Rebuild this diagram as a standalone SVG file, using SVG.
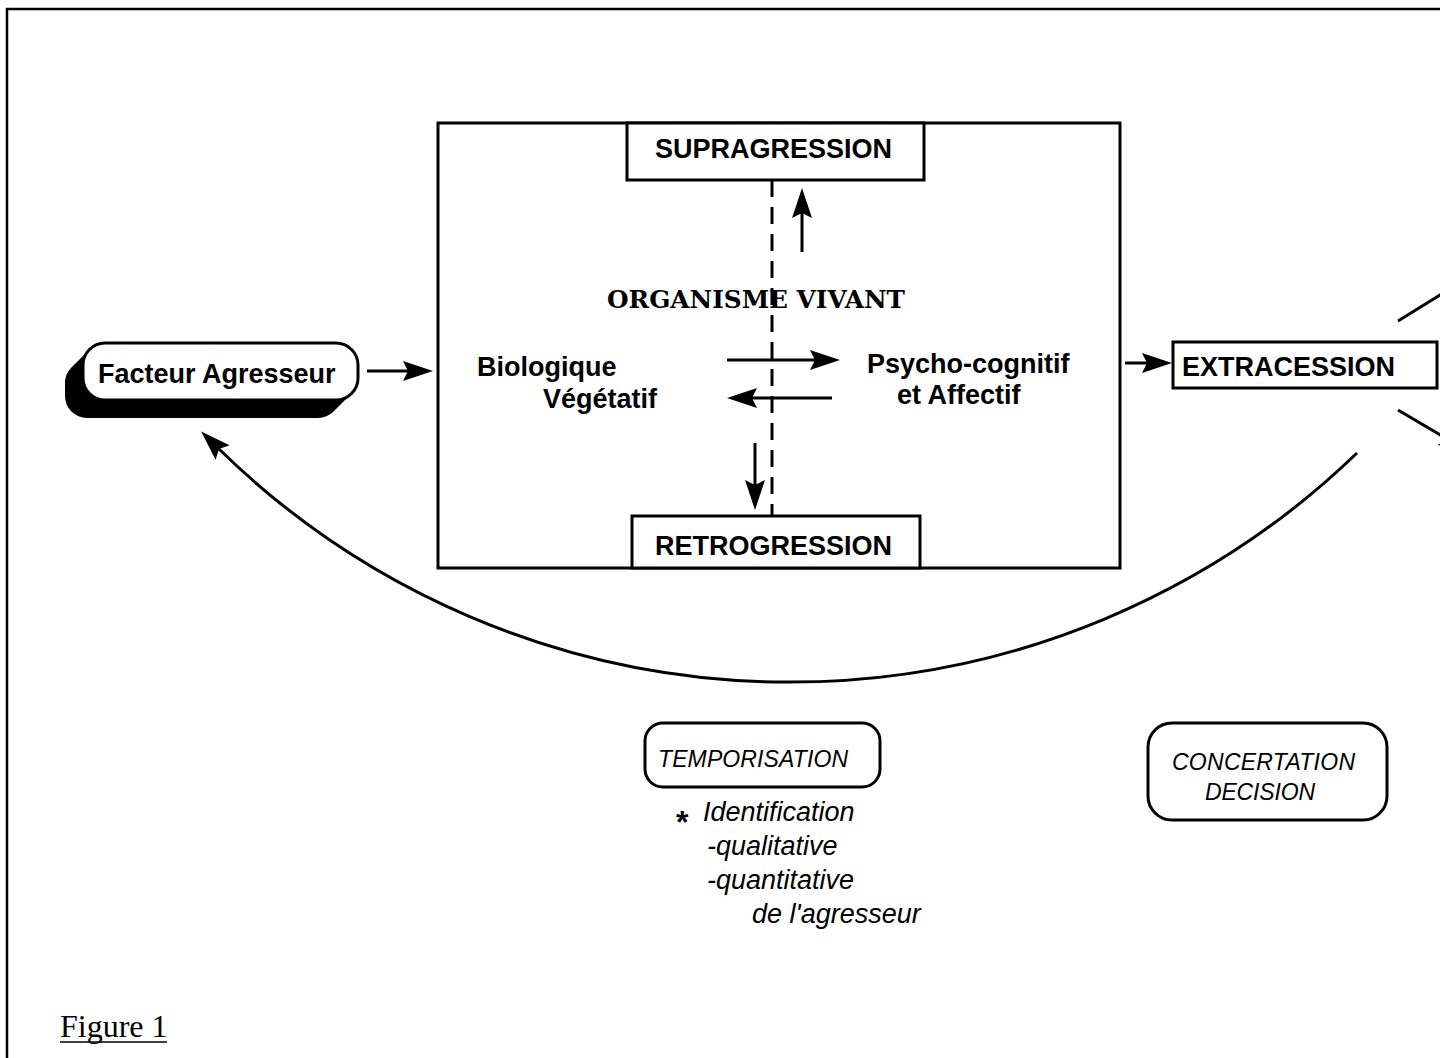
<svg xmlns="http://www.w3.org/2000/svg" width="1440" height="1058" viewBox="0 0 1440 1058">
<style>
.bx{fill:#fff;stroke:#000;stroke-width:3}
.ln{fill:none;stroke:#000;stroke-width:3}
.b{font-family:"Liberation Sans",Arial,sans-serif;font-weight:bold;font-size:27px;fill:#000}
.i{font-family:"Liberation Sans",Arial,sans-serif;font-style:italic;font-size:27px;fill:#000}
.is{font-family:"Liberation Sans",Arial,sans-serif;font-style:italic;font-size:23px;fill:#000}
.sv{font-family:"DejaVu Serif","Liberation Serif",serif;font-weight:bold;font-size:25px;fill:#000}
.fig{font-family:"Liberation Serif","Times New Roman",serif;font-size:32px;fill:#000}
</style>
<defs>
<marker id="ah" markerUnits="userSpaceOnUse" markerWidth="30" markerHeight="22" viewBox="0 0 30 22" refX="5" refY="11" orient="auto" overflow="visible">
<path d="M0,1 L30,11 L0,21 L5,11 Z" fill="#000"/>
</marker>
</defs>
<rect x="7" y="9" width="1460" height="1100" fill="none" stroke="#000" stroke-width="2.5"/>
<g id="organisme">
<rect class="bx" x="438" y="123" width="682" height="445"/>
<text class="sv" x="607" y="308" textLength="298" lengthAdjust="spacingAndGlyphs">ORGANISME VIVANT</text>
<text class="b" x="477" y="376">Biologique</text>
<text class="b" x="543" y="408">Végétatif</text>
<text class="b" x="867" y="373">Psycho-cognitif</text>
<text class="b" x="897" y="404">et Affectif</text>
</g>
<g id="supragression">
<rect class="bx" x="627" y="123" width="297" height="57"/>
<text class="b" x="655" y="158">SUPRAGRESSION</text>
</g>
<g id="retrogression">
<rect class="bx" x="632" y="516" width="288" height="52"/>
<text class="b" x="655" y="555">RETROGRESSION</text>
</g>
<g id="facteur">
<rect x="65" y="361" width="275" height="57" rx="22" fill="#000"/>
<rect x="68" y="358" width="275" height="57" rx="22" fill="#000"/>
<rect x="71" y="355" width="275" height="57" rx="22" fill="#000"/>
<rect x="74" y="352" width="275" height="57" rx="22" fill="#000"/>
<rect x="77" y="349" width="275" height="57" rx="22" fill="#000"/>
<rect x="80" y="346" width="275" height="57" rx="22" fill="#000"/>
<rect class="bx" x="83" y="343" width="275" height="57" rx="22"/>
<text class="b" x="98" y="383">Facteur Agresseur</text>
</g>
<g id="extracession">
<rect class="bx" x="1173" y="342" width="264" height="46"/>
<text class="b" x="1182" y="376">EXTRACESSION</text>
</g>
<g id="temporisation">
<rect class="bx" x="645" y="723" width="235" height="64" rx="18"/>
<text class="is" x="658" y="767" textLength="190" lengthAdjust="spacing">TEMPORISATION</text>
<text x="676" y="833" style="font-family:'Liberation Sans',Arial,sans-serif;font-weight:bold;font-size:32px">*</text>
<text class="i" x="703" y="821">Identification</text>
<text class="i" x="707" y="855">-qualitative</text>
<text class="i" x="707" y="889">-quantitative</text>
<text class="i" x="752" y="923">de l'agresseur</text>
</g>
<g id="concertation">
<rect class="bx" x="1148" y="723" width="239" height="97" rx="24"/>
<text class="is" x="1172" y="770" textLength="183" lengthAdjust="spacing">CONCERTATION</text>
<text class="is" x="1205" y="800" textLength="110" lengthAdjust="spacing">DECISION</text>
</g>
<g id="connectors">
<line class="ln" x1="772" y1="180" x2="772" y2="515" stroke-dasharray="17 10"/>
<line class="ln" x1="367" y1="371" x2="408" y2="371" marker-end="url(#ah)"/>
<line class="ln" x1="727" y1="360" x2="815" y2="360" marker-end="url(#ah)"/>
<line class="ln" x1="832" y1="398" x2="752" y2="398" marker-end="url(#ah)"/>
<line class="ln" x1="802" y1="252" x2="802" y2="213" marker-end="url(#ah)"/>
<line class="ln" x1="755" y1="443" x2="755" y2="485" marker-end="url(#ah)"/>
<line class="ln" x1="1125" y1="363" x2="1147" y2="363" marker-end="url(#ah)"/>
<path class="ln" d="M1357,453 A816,816 0 0 1 219,449" marker-end="url(#ah)"/>
<line class="ln" x1="1398" y1="321" x2="1448" y2="290"/>
<line class="ln" x1="1398" y1="410" x2="1447" y2="439" marker-end="url(#ah)"/>
</g>
<g id="caption">
<text class="fig" x="60" y="1037">Figure 1</text>
<line x1="60" y1="1042" x2="167" y2="1042" stroke="#000" stroke-width="1.5"/>
</g>
</svg>
